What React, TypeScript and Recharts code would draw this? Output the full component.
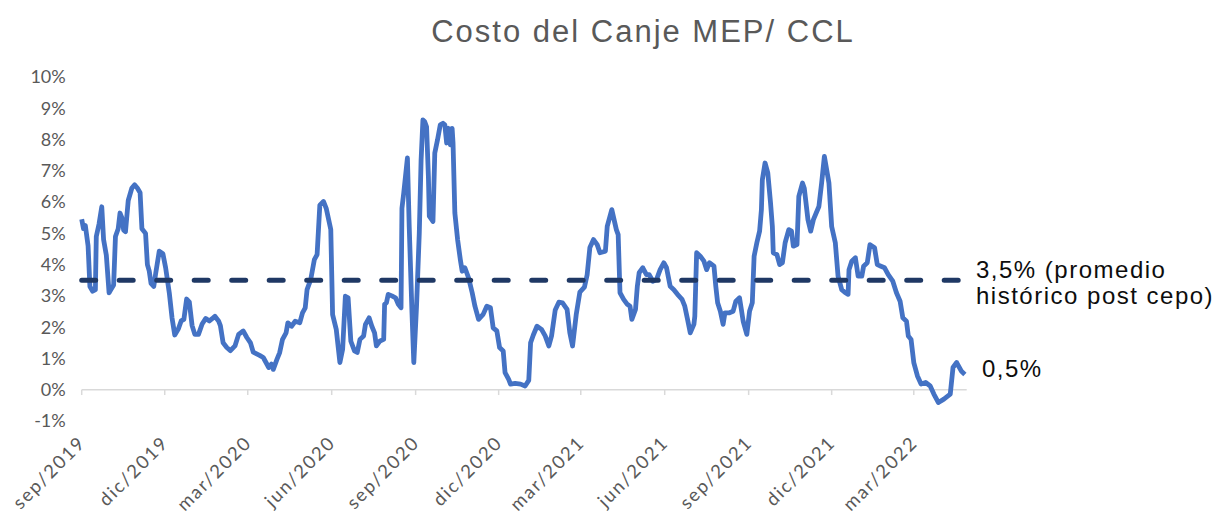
import { LineChart, Line, XAxis, YAxis, ReferenceLine } from "recharts";

// Costo del canje MEP/CCL (%)
const fechas = [
  "2019-09-01", "2019-09-03", "2019-09-05", "2019-09-08", "2019-09-10", "2019-09-13", "2019-09-16", "2019-09-17",
  "2019-09-20", "2019-09-23", "2019-09-25", "2019-09-28", "2019-10-01", "2019-10-03", "2019-10-06", "2019-10-08",
  "2019-10-11", "2019-10-13", "2019-10-15", "2019-10-17", "2019-10-19", "2019-10-22", "2019-10-26", "2019-10-29",
  "2019-11-01", "2019-11-04", "2019-11-06", "2019-11-10", "2019-11-12", "2019-11-14", "2019-11-16", "2019-11-19",
  "2019-11-21", "2019-11-25", "2019-11-29", "2019-12-02", "2019-12-06", "2019-12-09", "2019-12-12", "2019-12-16",
  "2019-12-19", "2019-12-22", "2019-12-25", "2019-12-28", "2019-12-31", "2020-01-03", "2020-01-07", "2020-01-11",
  "2020-01-15", "2020-01-19", "2020-01-22", "2020-01-25", "2020-01-29", "2020-01-31", "2020-02-03", "2020-02-07",
  "2020-02-11", "2020-02-16", "2020-02-20", "2020-02-25", "2020-02-29", "2020-03-04", "2020-03-07", "2020-03-14",
  "2020-03-18", "2020-03-21", "2020-03-24", "2020-03-27", "2020-03-29", "2020-04-02", "2020-04-05", "2020-04-08",
  "2020-04-12", "2020-04-14", "2020-04-18", "2020-04-22", "2020-04-27", "2020-04-30", "2020-05-03", "2020-05-05",
  "2020-05-09", "2020-05-13", "2020-05-16", "2020-05-19", "2020-05-23", "2020-05-26", "2020-05-31", "2020-06-02",
  "2020-06-06", "2020-06-10", "2020-06-13", "2020-06-16", "2020-06-19", "2020-06-22", "2020-06-26", "2020-06-29",
  "2020-07-02", "2020-07-06", "2020-07-08", "2020-07-12", "2020-07-15", "2020-07-18", "2020-07-20", "2020-07-24",
  "2020-07-28", "2020-07-29", "2020-07-31", "2020-08-02", "2020-08-06", "2020-08-10", "2020-08-13", "2020-08-16",
  "2020-08-17", "2020-08-19", "2020-08-23", "2020-08-25", "2020-08-28", "2020-08-30", "2020-09-02", "2020-09-05",
  "2020-09-07", "2020-09-09", "2020-09-11", "2020-09-13", "2020-09-15", "2020-09-16", "2020-09-20", "2020-09-22",
  "2020-09-25", "2020-09-28", "2020-10-01", "2020-10-03", "2020-10-05", "2020-10-07", "2020-10-09", "2020-10-11",
  "2020-10-12", "2020-10-14", "2020-10-17", "2020-10-20", "2020-10-22", "2020-10-25", "2020-10-29", "2020-11-02",
  "2020-11-05", "2020-11-09", "2020-11-14", "2020-11-18", "2020-11-22", "2020-11-25", "2020-11-29", "2020-12-02",
  "2020-12-06", "2020-12-08", "2020-12-12", "2020-12-14", "2020-12-19", "2020-12-25", "2020-12-30", "2021-01-03",
  "2021-01-05", "2021-01-08", "2021-01-12", "2021-01-17", "2021-01-21", "2021-01-25", "2021-01-28", "2021-02-01",
  "2021-02-05", "2021-02-09", "2021-02-14", "2021-02-17", "2021-02-20", "2021-02-24", "2021-02-28", "2021-03-05",
  "2021-03-08", "2021-03-11", "2021-03-15", "2021-03-19", "2021-03-22", "2021-03-28", "2021-03-30", "2021-04-04",
  "2021-04-09", "2021-04-11", "2021-04-13", "2021-04-17", "2021-04-21", "2021-04-24", "2021-04-26", "2021-04-30",
  "2021-05-02", "2021-05-04", "2021-05-08", "2021-05-12", "2021-05-15", "2021-05-19", "2021-05-23", "2021-05-27",
  "2021-05-31", "2021-06-03", "2021-06-07", "2021-06-11", "2021-06-15", "2021-06-20", "2021-06-23", "2021-06-26",
  "2021-06-29", "2021-07-03", "2021-07-04", "2021-07-06", "2021-07-10", "2021-07-14", "2021-07-17", "2021-07-20",
  "2021-07-25", "2021-07-27", "2021-07-29", "2021-08-01", "2021-08-04", "2021-08-06", "2021-08-11", "2021-08-15",
  "2021-08-18", "2021-08-22", "2021-08-24", "2021-08-26", "2021-08-30", "2021-09-02", "2021-09-05", "2021-09-07",
  "2021-09-10", "2021-09-13", "2021-09-15", "2021-09-16", "2021-09-19", "2021-09-22", "2021-09-25", "2021-09-27",
  "2021-09-28", "2021-10-02", "2021-10-05", "2021-10-08", "2021-10-11", "2021-10-15", "2021-10-18", "2021-10-20",
  "2021-10-24", "2021-10-26", "2021-10-30", "2021-11-01", "2021-11-05", "2021-11-08", "2021-11-11", "2021-11-17",
  "2021-11-20", "2021-11-23", "2021-11-28", "2021-12-01", "2021-12-05", "2021-12-08", "2021-12-12", "2021-12-16",
  "2021-12-19", "2021-12-20", "2021-12-23", "2021-12-27", "2021-12-30", "2022-01-03", "2022-01-05", "2022-01-09",
  "2022-01-12", "2022-01-17", "2022-01-20", "2022-01-24", "2022-01-28", "2022-02-01", "2022-02-06", "2022-02-10",
  "2022-02-14", "2022-02-17", "2022-02-21", "2022-02-23", "2022-02-26", "2022-03-01", "2022-03-05", "2022-03-09",
  "2022-03-14", "2022-03-19", "2022-03-23", "2022-03-28", "2022-04-03", "2022-04-10", "2022-04-13", "2022-04-17",
  "2022-04-22", "2022-04-26",
];

const canje = [
  5.45, 5.15, 5.25, 4.6, 3.3, 3.15, 3.2, 4.9,
  5.3, 5.85, 4.8, 4.3, 3.1, 3.2, 3.35, 4.9,
  5.15, 5.65, 5.5, 5.1, 5.05, 6.05, 6.45, 6.55,
  6.45, 6.3, 5.15, 5.0, 4.0, 3.8, 3.4, 3.3,
  3.7, 4.43, 4.35, 3.9, 3.1, 2.3, 1.75, 1.95,
  2.2, 2.25, 2.9, 2.8, 2.05, 1.77, 1.77, 2.1,
  2.28, 2.2, 2.27, 2.35, 2.2, 2.05, 1.5, 1.35,
  1.25, 1.4, 1.77, 1.88, 1.67, 1.5, 1.2, 1.1,
  1.03, 0.87, 0.71, 0.82, 0.65, 0.97, 1.19, 1.6,
  1.82, 2.14, 2.03, 2.19, 2.14, 2.46, 2.62, 3.2,
  3.52, 4.16, 4.32, 5.9, 6.02, 5.8, 5.12, 2.4,
  1.93, 0.87, 1.29, 2.99, 2.94, 1.55, 1.24, 1.19,
  1.61, 1.72, 2.09, 2.3, 2.03, 1.82, 1.4, 1.56,
  1.61, 2.73, 2.78, 3.05, 3.0, 2.94, 2.73, 2.62,
  5.8, 6.3, 7.41, 5.2, 2.46, 0.87, 2.67, 5.0,
  7.35, 8.63, 8.57, 8.41, 6.82, 5.55, 5.38, 7.57,
  7.99, 8.47, 8.52, 8.47, 7.89, 8.36, 7.83, 8.36,
  7.89, 5.65, 4.8, 4.16, 3.79, 3.9, 3.58, 3.1,
  2.67, 2.25, 2.41, 2.67, 2.62, 1.98, 1.88, 1.35,
  1.24, 0.55, 0.33, 0.18, 0.2, 0.18, 0.12, 0.3,
  1.5, 1.75, 2.03, 1.93, 1.72, 1.4, 1.72, 2.55,
  2.8, 2.78, 2.57, 1.82, 1.4, 2.4, 3.12, 3.28,
  3.68, 4.55, 4.8, 4.64, 4.38, 4.43, 5.22, 5.76,
  5.12, 4.96, 3.1, 2.89, 2.73, 2.67, 2.25, 2.57,
  3.31, 3.74, 3.9, 3.68, 3.68, 3.47, 3.52, 3.84,
  4.06, 3.9, 3.31, 3.2, 3.05, 2.89, 2.67, 2.25,
  1.82, 2.09, 2.35, 4.38, 4.27, 4.11, 3.84, 4.06,
  3.95, 3.31, 2.78, 2.51, 2.09, 2.46, 2.46, 2.51,
  2.83, 2.94, 2.57, 2.19, 1.77, 2.51, 2.78, 4.27,
  4.7, 5.07, 5.76, 6.71, 7.25, 6.93, 5.97, 5.22,
  4.38, 4.32, 4.0, 4.06, 4.7, 5.12, 5.07, 4.59,
  4.64, 6.18, 6.61, 6.44, 5.44, 5.07, 5.44, 5.86,
  6.61, 7.46, 6.61, 5.22, 4.7, 3.63, 3.2, 3.1,
  3.05, 3.84, 4.11, 4.22, 3.63, 3.63, 3.95, 4.06,
  4.64, 4.54, 4.0, 3.95, 3.9, 3.68, 3.47, 3.1,
  2.83, 2.3, 2.19, 1.72, 1.61, 0.87, 0.44, 0.18,
  0.23, 0.12, -0.14, -0.41, -0.3, -0.14, 0.71, 0.87,
  0.6, 0.49,
];

const trimestres = [
  "2019-09-01", "2019-12-01", "2020-03-01", "2020-06-01", "2020-09-01", "2020-12-01",
  "2021-03-01", "2021-06-01", "2021-09-01", "2021-12-01", "2022-03-01",
];
const etiquetasTrimestre = [
  "sep/2019", "dic/2019", "mar/2020", "jun/2020", "sep/2020", "dic/2020",
  "mar/2021", "jun/2021", "sep/2021", "dic/2021", "mar/2022",
];
const rangoFechas = ["2019-09-01", "2022-04-28"];
const yTicks = [-1, 0, 1, 2, 3, 4, 5, 6, 7, 8, 9, 10];
const promedio = 3.5;

const rows = fechas.map((f, i) => ({ t: Date.parse(f), v: canje[i] }));
const tickTimes = trimestres.map((f) => Date.parse(f));
const labels = new Map(tickTimes.map((t, i) => [t, etiquetasTrimestre[i]]));

const gray = "#595959";
const tickFont = "Lato, 'Open Sans', sans-serif";

function XTick(props: any) {
  const { x, y, payload } = props;
  return (
    <g transform={`translate(${x + 5},${y + 15}) rotate(-45)`}>
      <text textAnchor="end" fill={gray} fontSize={18.5} fontFamily={tickFont} letterSpacing={1.8}>
        {labels.get(payload.value)}
      </text>
    </g>
  );
}

export default function App() {
  return (
    <div style={{ position: "relative", width: 1210, height: 514, fontFamily: "'Liberation Sans', Arial, sans-serif" }}>
      <div
        style={{
          position: "absolute",
          left: 0,
          width: 1270,
          top: 6,
          textAlign: "center",
          fontSize: 31,
          lineHeight: "36px",
          color: gray,
          letterSpacing: 2,
        }}
      >
        Costo del Canje MEP/ CCL
      </div>
      <LineChart
        width={1210}
        height={514}
        data={rows}
        margin={{ top: 69, right: 251.3, left: 0, bottom: 41 }}
      >
        <XAxis
          dataKey="t"
          type="number"
          domain={rangoFechas.map((f) => Date.parse(f))}
          ticks={tickTimes}
          height={60}
          axisLine={false}
          tickLine={false}
          tick={<XTick />}
          interval={0}
        />
        <YAxis
          type="number"
          domain={[-1, 10]}
          ticks={yTicks}
          width={73.7}
          axisLine={false}
          tickLine={false}
          tickMargin={10}
          tickFormatter={(v) => `${v}%`}
          tick={{ fill: gray, fontSize: 18, fontFamily: tickFont }}
        />
        <ReferenceLine y={0} stroke="#D9D9D9" strokeWidth={1.5} />
        {tickTimes.map((t) => (
          <ReferenceLine
            key={t}
            segment={[{ x: t, y: 0 }, { x: t, y: -0.17 }]}
            stroke="#D9D9D9"
            strokeWidth={1.5}
          />
        ))}
        <Line
          type="linear"
          dataKey="v"
          stroke="#4472C4"
          strokeWidth={4.8}
          dot={false}
          strokeLinejoin="round"
          isAnimationActive={false}
        />
        <ReferenceLine
          y={promedio}
          stroke="#1F3864"
          strokeWidth={5}
          strokeDasharray="14 23.5"
          strokeLinecap="round"
        />
      </LineChart>
      <div
        style={{
          position: "absolute",
          left: 968,
          top: 249,
          fontSize: 24,
          lineHeight: "26px",
          color: "#0d0d0d",
          letterSpacing: 1.5,
          whiteSpace: "nowrap",
        }}
      >
        3,5% (promedio
        <br />
        histórico post cepo)
      </div>
      <div
        style={{
          position: "absolute",
          left: 974,
          top: 348,
          fontSize: 24,
          lineHeight: "26px",
          color: "#0d0d0d",
          letterSpacing: 1.5,
        }}
      >
        0,5%
      </div>
    </div>
  );
}
